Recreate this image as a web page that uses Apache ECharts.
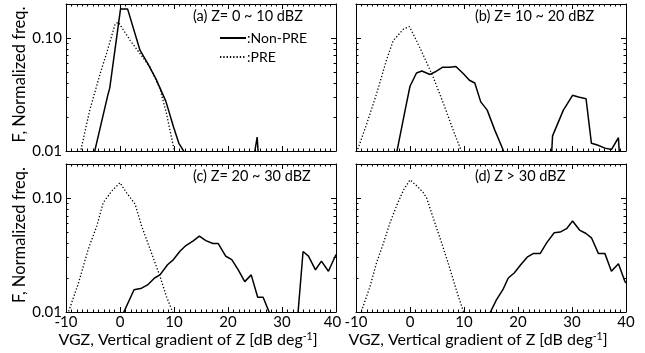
<!DOCTYPE html>
<html>
<head>
<meta charset="utf-8">
<script src="https://cdn.jsdelivr.net/npm/echarts@6/dist/echarts.min.js"></script>
<style>
  html, body { margin: 0; padding: 0; background: #fff; }
  #chart { width: 645px; height: 353px; }
</style>
</head>
<body>
<div id="chart"></div>
<script>
// panel labels and axis ticks
const panelTitles = ["(a) Z= 0 ~ 10 dBZ", "(b) Z= 10 ~ 20 dBZ", "(c) Z= 20 ~ 30 dBZ", "(d) Z > 30 dBZ"];
const seriesNames = ["Non-PRE", "PRE"];
const yMajorTicks = [0.01, 0.1];
const yMinorTicks = [0.02, 0.03, 0.04, 0.05, 0.06, 0.07, 0.08, 0.09, 0.2];

// [VGZ, normalized freq.]; null breaks the line
const nonPreA = [[-4.9, 0.009], [-2.2, 0.032], [-1.9, 0.036], [0.1, 0.181], [1.4, 0.181], [3.7, 0.078],
  [5.1, 0.06], [6.7, 0.043], [8.5, 0.0275], [9.9, 0.0164], [10.9, 0.0117], [11.9, 0.0098], [12.5, 0.009],
  [18, null], [24.9, 0.0095], [25.4, 0.0133], [25.6, 0.0095]];
const preA = [[-7.5, 0.009], [-5.6, 0.023], [-3.7, 0.048], [-2.5, 0.0727], [-0.9, 0.133], [-0.3, 0.138],
  [1.9, 0.095], [3.7, 0.0727], [5.6, 0.055], [7.4, 0.0357], [8.6, 0.0215], [9.9, 0.0109], [10.2, 0.0095]];

const nonPreB = [[-2.5, 0.0095], [-0.9, 0.023], [0, 0.0374], [1.2, 0.049], [2.2, 0.051], [3.7, 0.0476],
  [4.6, 0.05], [6.0, 0.055], [7.4, 0.055], [8.5, 0.056], [9.9, 0.0483], [11.0, 0.0423], [12.0, 0.04],
  [13.1, 0.0272], [14.3, 0.023], [15.7, 0.0153], [17.0, 0.0109], [17.5, 0.0095], [22, null],
  [26.2, 0.009], [26.4, 0.0136], [28.4, 0.023], [30.1, 0.0311], [31.2, 0.03], [32.6, 0.029],
  [33.6, 0.0117], [34.7, 0.0113], [36.1, 0.0106], [37.3, 0.0103], [38.6, 0.0131], [38.8, 0.009]];
const preB = [[-10, 0.0098], [-9.6, 0.0106], [-8.0, 0.0175], [-6.2, 0.032], [-4.3, 0.065], [-3.1, 0.095],
  [-1.2, 0.12], [-0.1, 0.126], [1.2, 0.095], [2.8, 0.065], [4.3, 0.045], [6.2, 0.0263], [8.0, 0.0153],
  [9.3, 0.0106], [9.6, 0.0095]];

const nonPreC = [[0.5, 0.0095], [2.6, 0.0157], [4.0, 0.0162], [5.1, 0.0173], [6.4, 0.0199], [7.4, 0.0212],
  [8.8, 0.026], [9.9, 0.0289], [11.1, 0.0342], [12.2, 0.0384], [13.5, 0.042], [14.7, 0.0464],
  [15.9, 0.0424], [17.2, 0.04], [18.2, 0.04], [19.6, 0.0309], [20.7, 0.0289], [21.9, 0.0235],
  [23.1, 0.0185], [24.3, 0.0212], [25.5, 0.0135], [26.5, 0.0135], [27.8, 0.0095], [30, null],
  [32.9, 0.009], [33.9, 0.034], [34.9, 0.031], [36.2, 0.0235], [37.3, 0.028], [38.6, 0.0228], [40, 0.032]];
const preC = [[-9.7, 0.0095], [-9.3, 0.0108], [-7.7, 0.0179], [-5.9, 0.0354], [-4.3, 0.057], [-3.1, 0.0917],
  [-1.5, 0.116], [0, 0.137], [1.2, 0.112], [2.8, 0.0886], [4.0, 0.057], [5.6, 0.0354], [7.4, 0.0206],
  [8.6, 0.0137], [9.6, 0.0104], [9.9, 0.0095]];

const nonPreD = [[14.3, 0.009], [14.8, 0.0098], [16.0, 0.0128], [17.2, 0.0157], [18.2, 0.0199], [19.3, 0.022],
  [20.5, 0.026], [21.7, 0.0303], [22.8, 0.0326], [24.1, 0.0326], [25.3, 0.0405], [26.7, 0.0497],
  [27.8, 0.0504], [29.0, 0.054], [30.1, 0.063], [31.4, 0.0525], [32.6, 0.049], [33.6, 0.0449],
  [34.9, 0.0326], [36.1, 0.0326], [37.3, 0.0228], [38.6, 0.0266], [39.8, 0.0185], [40, 0.018]];
const preD = [[-9.2, 0.0095], [-7.4, 0.0168], [-6.2, 0.027], [-4.9, 0.0405], [-3.7, 0.061], [-2.5, 0.0855],
  [-1.2, 0.118], [0, 0.145], [1.3, 0.128], [2.4, 0.113], [3.1, 0.1], [4.3, 0.067], [5.9, 0.04],
  [7.4, 0.024], [8.6, 0.0155], [9.8, 0.0104], [10.1, 0.0095]];

const panelData = [[nonPreA, preA], [nonPreB, preB], [nonPreC, preC], [nonPreD, preD]];

const FONT = "Lato";
const black = "#000";

const grids = [
  { left: 66, top: 4, width: 270, height: 147 },
  { left: 356, top: 4, width: 270, height: 147 },
  { left: 66, top: 164, width: 270, height: 148 },
  { left: 356, top: 164, width: 270, height: 148 },
];

function xAxisFor(i, position) {
  const showLabel = position === "bottom" && i >= 2;
  return {
    gridIndex: i,
    type: "value",
    position,
    min: -10,
    max: 40,
    interval: 10,
    axisLine: { onZero: false, lineStyle: { color: black, width: 1 } },
    axisTick: { inside: true, length: 5, lineStyle: { color: black } },
    minorTick: { show: true, splitNumber: 10, length: 2.5, lineStyle: { color: black } },
    splitLine: { show: false },
    axisLabel: {
      show: showLabel, color: black, fontSize: 15, fontFamily: FONT, margin: 3,
      // the left panel's "40" sits a little left so it does not run into "-10"
      formatter: (v) => (i === 2 && v === 40 ? "{r|40}" : String(v)),
      rich: { r: { fontSize: 15, fontFamily: FONT, color: black, padding: [0, 7, 0, 0] } },
    },
    name: showLabel ? "VGZ, Vertical gradient of Z [dB deg{sup|-1}]" : "",
    nameLocation: "middle",
    nameGap: 18,
    nameTextStyle: {
      color: black, fontSize: 16, fontFamily: FONT, padding: [0, 26, 0, 0],
      rich: { sup: { fontSize: 10.5, verticalAlign: "top", padding: [0, 0, 7, 0], fontFamily: FONT, color: black } },
    },
  };
}

function yAxisFor(i, position, major) {
  const showLabel = major && position === "left" && (i === 0 || i === 2);
  return {
    gridIndex: i,
    type: "log",
    logBase: 10,
    position,
    min: 0.01,
    max: 0.2,
    axisLine: { show: major, onZero: false, lineStyle: { color: black, width: 1 } },
    axisTick: {
      inside: true,
      length: major ? 5 : 2.5,
      customValues: major ? yMajorTicks : yMinorTicks,
      lineStyle: { color: black },
    },
    splitLine: { show: false },
    axisLabel: {
      show: showLabel,
      customValues: yMajorTicks,
      formatter: (v) => Number(v).toFixed(2),
      color: black, fontSize: 15, fontFamily: FONT, margin: 4,
    },
    name: showLabel ? "F, Normalized freq." : "",
    nameLocation: "middle",
    nameGap: 35,
    nameRotate: 90,
    nameTextStyle: { color: black, fontSize: 16.5, fontFamily: FONT, padding: [0, 0, 0, 6] },
  };
}

const xAxes = [];
const yAxes = [];
const series = [];
grids.forEach((g, i) => {
  xAxes.push(xAxisFor(i, "bottom"), xAxisFor(i, "top"));
  const base = yAxes.length;
  yAxes.push(yAxisFor(i, "left", true), yAxisFor(i, "left", false),
    yAxisFor(i, "right", true), yAxisFor(i, "right", false));
  panelData[i].forEach((data, k) => {
    series.push({
      name: seriesNames[k],
      type: "line",
      xAxisIndex: i * 2,
      yAxisIndex: base,
      data,
      symbol: "none",
      clip: true,
      connectNulls: false,
      lineStyle: k === 0 ? { color: black, width: 1.5, type: "solid" } : { color: black, width: 1.3, type: [1.3, 2] },
      itemStyle: { color: black },
    });
  });
});

const titlePos = [[193, 16], [475, 16], [193, 176], [475, 176]];

const chart = echarts.init(document.getElementById("chart"));
chart.setOption({
  backgroundColor: "#fff",
  animation: false,
  grid: grids,
  xAxis: xAxes,
  yAxis: yAxes,
  legend: {
    orient: "vertical",
    left: 219,
    top: 31,
    padding: 0,
    itemWidth: 26,
    itemHeight: 10,
    itemGap: 5,
    data: seriesNames,
    formatter: ":{name}",
    itemStyle: { opacity: 0 },
    textStyle: { color: black, fontSize: 14, fontFamily: FONT, padding: [0, 0, 0, -4] },
  },
  graphic: panelTitles.map((t, i) => ({
    type: "text",
    x: titlePos[i][0],
    y: titlePos[i][1],
    style: { text: t, fill: black, font: `14.5px ${FONT}`, verticalAlign: "middle" },
  })),
  series,
});
</script>
</body>
</html>
